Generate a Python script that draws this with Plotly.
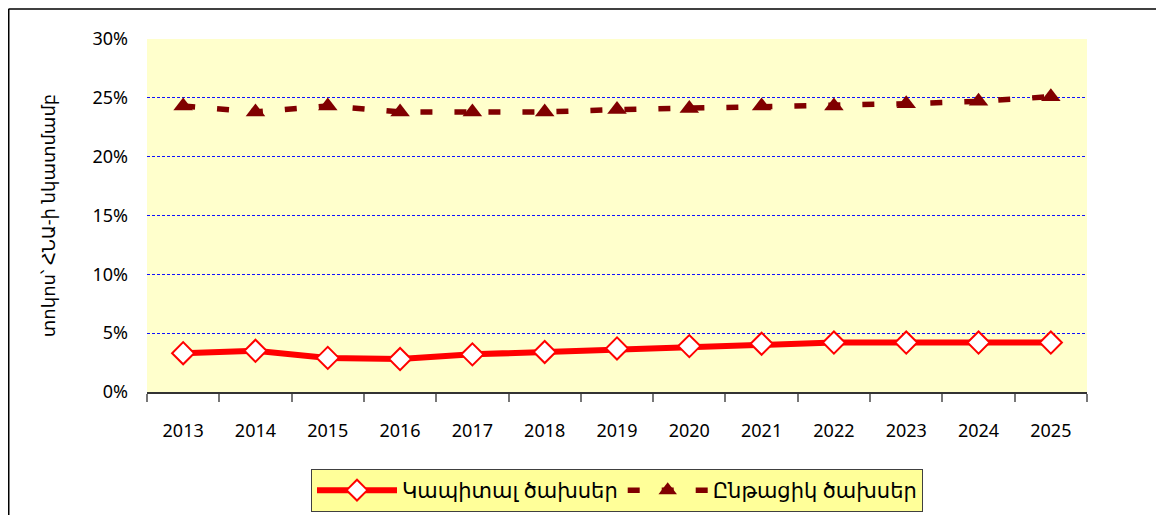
import plotly.graph_objects as go

years = ["2013", "2014", "2015", "2016", "2017", "2018", "2019",
         "2020", "2021", "2022", "2023", "2024", "2025"]
capital = [3.3, 3.5, 2.9, 2.8, 3.2, 3.4, 3.7, 3.9, 4.1, 4.2, 4.2, 4.2, 4.2]
current = [24.3, 23.8, 24.3, 23.8, 23.8, 23.8, 24.0, 24.1, 24.3, 24.3, 24.5, 24.7, 25.1]
name_capital = "Կապիտալ ծախսեր"
name_current = "Ընթացիկ ծախսեր"
y_title = "տոկոս՝ ՀՆԱ-ի նկատմամբ"

# page body has an 8px margin; positions below are in figure pixels
W, H = 1164, 515
L, R, T, B = 139, 85, 31, 130
pw, ph = W - L - R, H - T - B

FONT = "Noto Sans, DejaVu Sans, sans-serif"

fig = go.Figure()
fig.add_trace(go.Scatter(
    x=years, y=[v / 100 for v in capital], name=name_capital,
    mode="lines+markers",
    line=dict(color="#FF0000", width=6),
    marker=dict(symbol="diamond", size=17, color="white",
                line=dict(color="#FF0000", width=2)),
))
fig.add_trace(go.Scatter(
    x=years, y=[v / 100 for v in current], name=name_current,
    mode="lines+markers",
    line=dict(color="#800000", width=5.5, dash="12px,22px"),
    marker=dict(symbol="triangle-up", size=17, color="#800000"),
))

def px_x(x):
    return (x - L) / pw

def px_y(y):
    return (T + ph - y) / ph

fig.update_layout(
    width=W, height=H,
    margin=dict(l=L, r=R, t=T, b=B),
    paper_bgcolor="white",
    plot_bgcolor="#FFFFCC",
    font=dict(family=FONT, size=18, color="#000000"),
    showlegend=True,
    legend=dict(
        orientation="h",
        x=px_x(609), xanchor="center",
        y=px_y(461), yanchor="top",
        bgcolor="#FFFF99", bordercolor="#404040", borderwidth=1,
        font=dict(size=21, family=FONT, color="#000000"),
        itemwidth=80,
    ),
    xaxis=dict(
        type="category",
        range=[-0.5, len(years) - 0.5],
        tickson="boundaries",
        ticks="outside", ticklen=8, tickcolor="#777777", tickwidth=1.5,
        showline=True, linecolor="#333333", linewidth=1.5,
        showgrid=False,
        ticklabelstandoff=22,
        tickfont=dict(size=18),
    ),
    yaxis=dict(
        range=[0, 0.30], dtick=0.05, tickformat=".0%",
        showgrid=True, gridcolor="#1010FF", griddash="3px,2px", gridwidth=1,
        zeroline=False, showline=False, ticks="",
        ticklabelstandoff=18,
        tickfont=dict(size=18),
        title=dict(text=y_title, font=dict(size=18), standoff=32),
    ),
    shapes=[
        dict(type="line", xref="paper", yref="paper",
             x0=px_x(0.5), x1=px_x(W + 5),
             y0=px_y(1), y1=px_y(1),
             line=dict(color="black", width=1.5)),
        dict(type="line", xref="paper", yref="paper",
             x0=px_x(0.75), x1=px_x(0.75),
             y0=px_y(1), y1=px_y(H + 5),
             line=dict(color="black", width=1.5)),
    ],
)

fig.write_html("out.html")
